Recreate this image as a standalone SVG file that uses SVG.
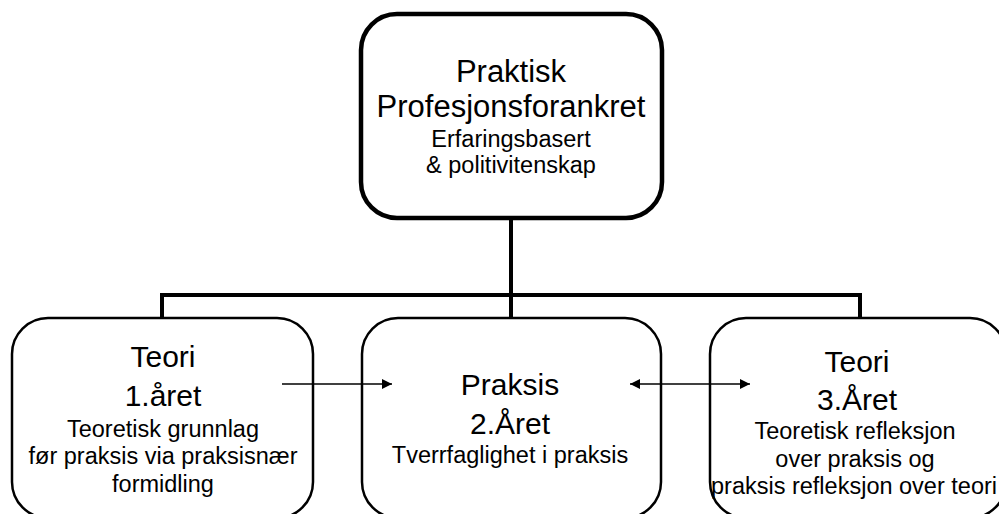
<svg xmlns="http://www.w3.org/2000/svg" width="999" height="514" viewBox="0 0 999 514">
<defs>
<style>
.t{font-family:"Liberation Sans",Arial,sans-serif;fill:#000;text-anchor:middle}
.big{font-size:30px}
.top{font-size:31px}
.sub{font-size:23.5px}
.box{fill:#fff;stroke:#000;stroke-width:2.5}
.conn{fill:none;stroke:#000;stroke-width:4}
.arr{fill:none;stroke:#000;stroke-width:1.5}
</style>
<marker id="ah" viewBox="0 0 10 10" refX="10" refY="5" markerWidth="10" markerHeight="10" markerUnits="userSpaceOnUse" orient="auto-start-reverse">
<path d="M0,0 L10,5 L0,10 z" fill="#000"/>
</marker>
</defs>
<rect width="999" height="514" fill="#fff"/>
<g id="connectors">
<path class="conn" d="M511,218 V295 M162,295 H860 M162,293 V318 M511,295 V318 M860,293 V318"/>
</g>
<g id="top">
<rect x="361" y="14" width="301" height="204" rx="36" fill="#fff" stroke="#000" stroke-width="4.5"/>
<text class="t top" x="511" y="82">Praktisk</text>
<text class="t top" x="511" y="117">Profesjonsforankret</text>
<text class="t sub" x="511" y="147">Erfaringsbasert</text>
<text class="t sub" x="511" y="173">&amp; politivitenskap</text>
</g>
<g id="left">
<rect class="box" x="12" y="318" width="301" height="200" rx="36"/>
<text class="t big" x="163" y="367">Teori</text>
<text class="t big" x="163" y="406">1.året</text>
<text class="t sub" x="163" y="437">Teoretisk grunnlag</text>
<text class="t sub" x="163" y="464">før praksis via praksisnær</text>
<text class="t sub" x="163" y="492">formidling</text>
</g>
<g id="middle">
<rect class="box" x="362" y="318" width="299" height="200" rx="36"/>
<text class="t big" x="510" y="395">Praksis</text>
<text class="t big" x="510" y="434">2.Året</text>
<text class="t sub" x="510" y="463">Tverrfaglighet i praksis</text>
</g>
<g id="right">
<rect class="box" x="710" y="318" width="296" height="200" rx="36"/>
<text class="t big" x="857" y="372">Teori</text>
<text class="t big" x="857" y="410">3.Året</text>
<text class="t sub" x="855" y="439">Teoretisk refleksjon</text>
<text class="t sub" x="855" y="467">over praksis og</text>
<text class="t sub" x="854" y="494">praksis refleksjon over teori</text>
</g>
<g id="arrows">
<line class="arr" x1="282" y1="384" x2="392" y2="384" marker-end="url(#ah)"/>
<line class="arr" x1="630" y1="384" x2="750" y2="384" marker-start="url(#ah)" marker-end="url(#ah)"/>
</g>
</svg>
